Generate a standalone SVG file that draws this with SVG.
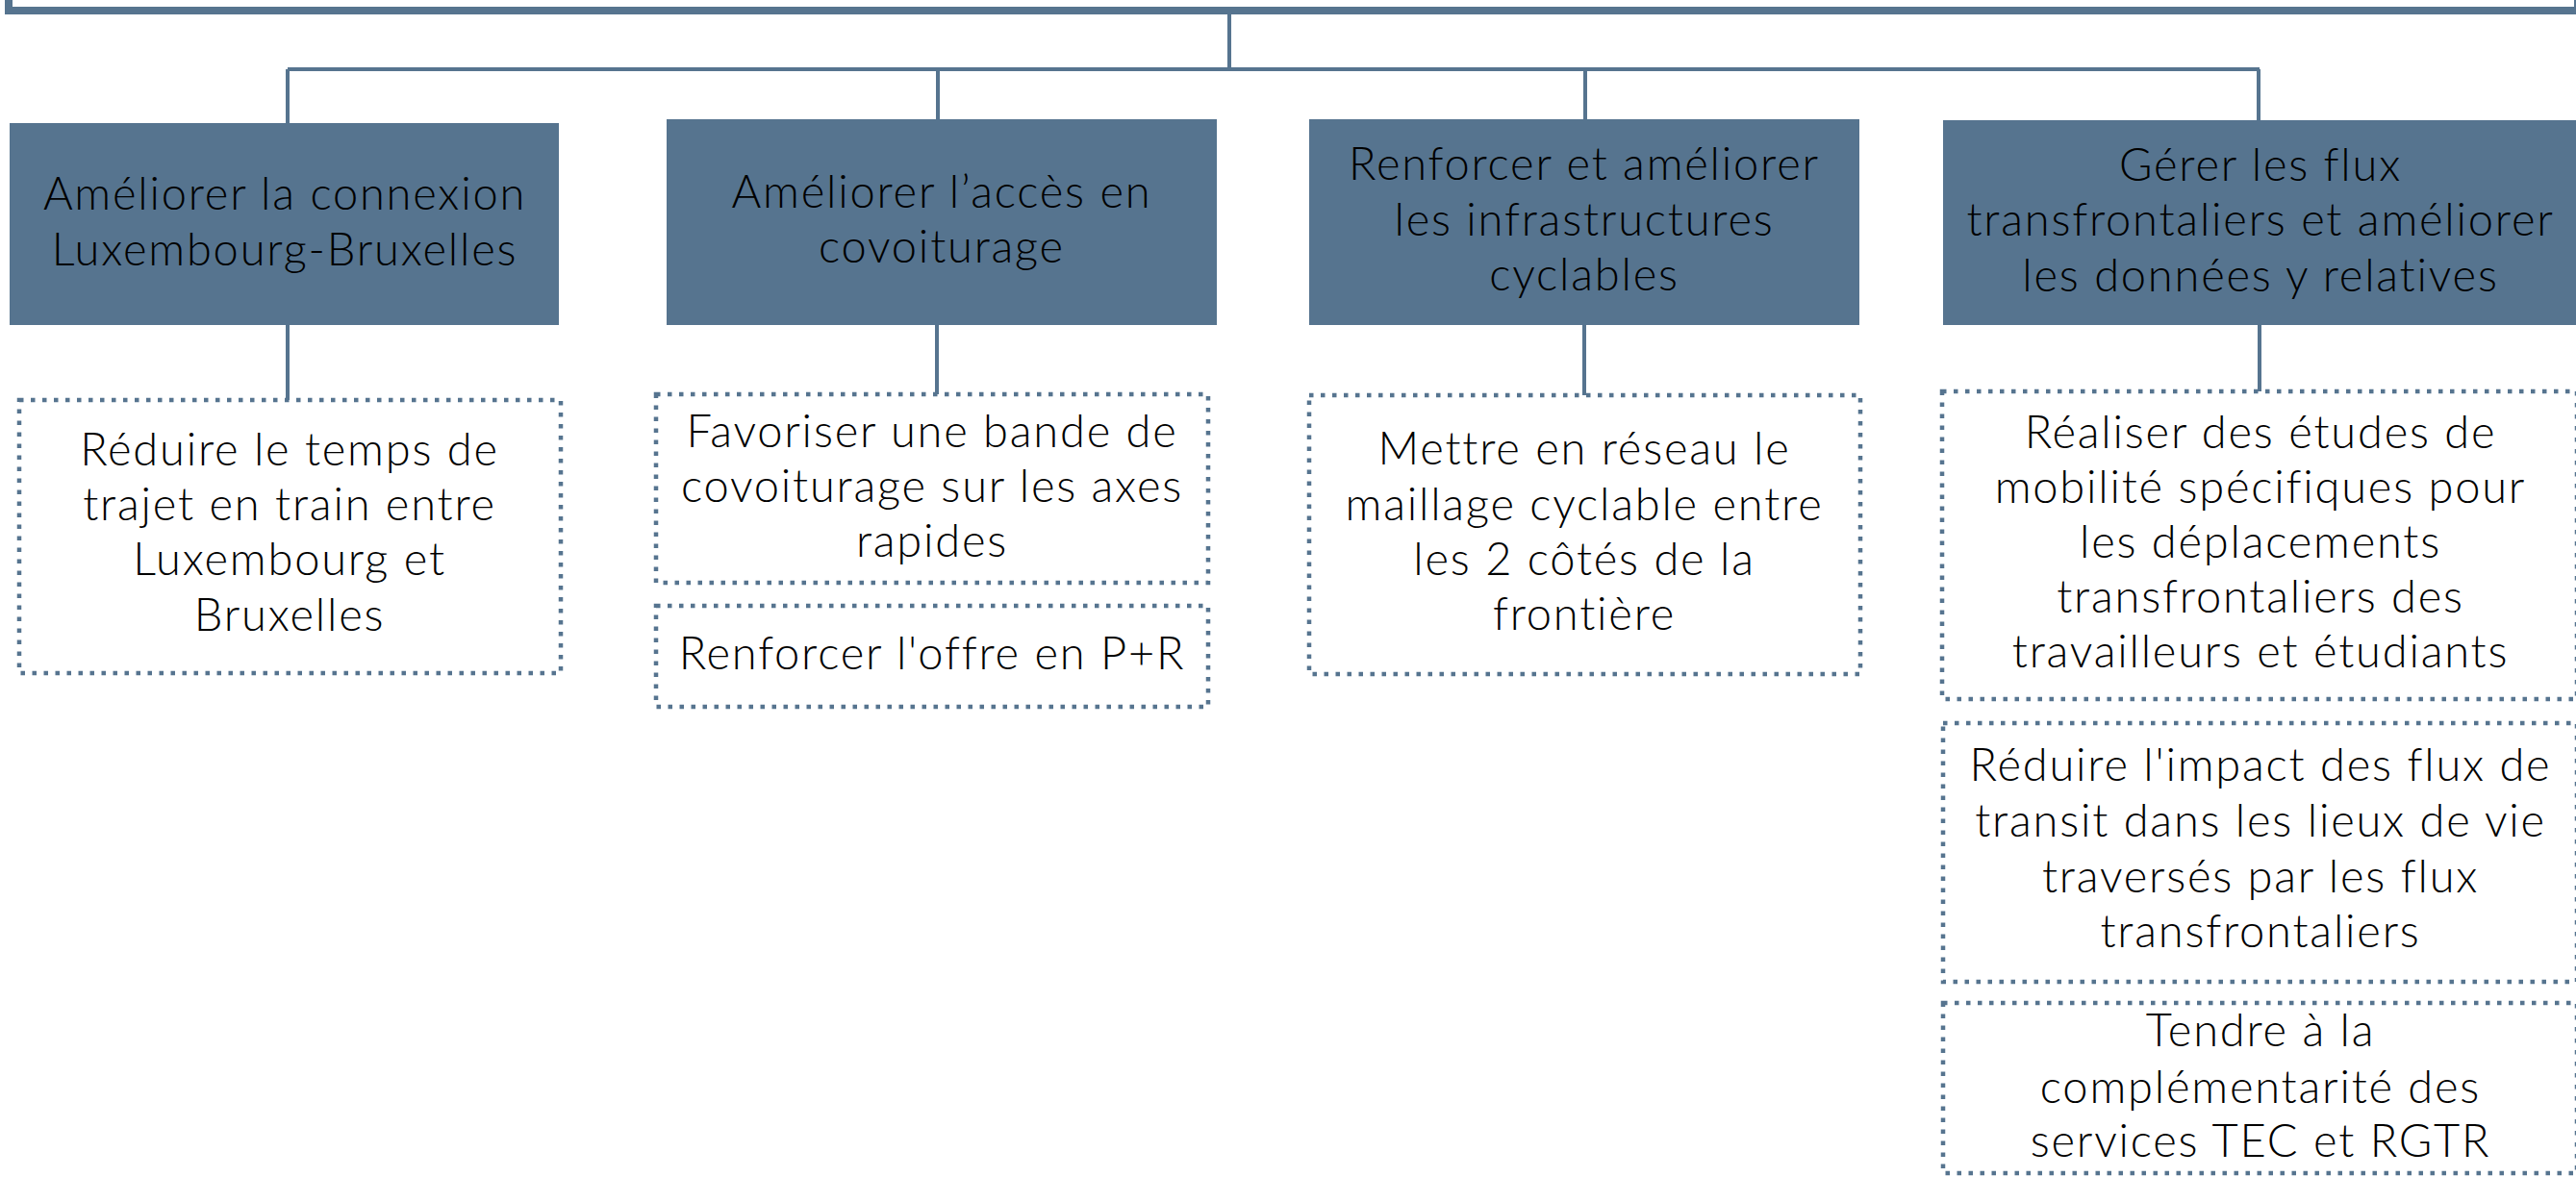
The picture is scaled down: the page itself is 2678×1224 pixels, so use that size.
<svg xmlns="http://www.w3.org/2000/svg" width="2678" height="1224" viewBox="0 0 2678 1224">
<style>
.box{fill:#56748F}
.dot{fill:#fff;stroke:#56748F;stroke-width:4.5;stroke-dasharray:4.5 7.5}
.conn{stroke:#56748F;stroke-width:4;fill:none}
text{font-family:Lato,"Noto Sans",sans-serif;font-size:47px;font-weight:300;letter-spacing:1.8px;fill:#000;text-anchor:middle}
</style>
<rect width="2678" height="1224" fill="#fff"/>
<g id="connectors">
<path class="conn" d="M1278 15V72M299 72H2349M299 72V128M975 72V124M1648 72V124M2348 72V125"/>
<path class="conn" d="M299 338V416M974 338V410M1647 338V411M2349 338V407"/>
</g>
<g id="root"><rect x="9" y="-40" width="2671" height="51" fill="#fff" stroke="#56748F" stroke-width="8"/></g>
<g id="n1"><rect class="box" x="10" y="128" width="571" height="210"/>
<text x="296" y="218">Améliorer la connexion</text><text x="296" y="276">Luxembourg-Bruxelles</text></g>
<g id="n2"><rect class="box" x="693" y="124" width="572" height="214"/>
<text x="979" y="216">Améliorer l’accès en</text><text x="979" y="273">covoiturage</text></g>
<g id="n3"><rect class="box" x="1361" y="124" width="572" height="214"/>
<text x="1647" y="187">Renforcer et améliorer</text><text x="1647" y="245">les infrastructures</text><text x="1647" y="302">cyclables</text></g>
<g id="n4"><rect class="box" x="2020" y="125" width="670" height="213"/>
<text x="2350" y="188">Gérer les flux</text><text x="2350" y="245">transfrontaliers et améliorer</text><text x="2350" y="303">les données y relatives</text></g>
<g id="d1"><rect class="dot" x="20" y="416" width="563" height="284"/>
<text x="301" y="484">Réduire le temps de</text><text x="301" y="541">trajet en train entre</text><text x="301" y="598">Luxembourg et</text><text x="301" y="656">Bruxelles</text></g>
<g id="d2a"><rect class="dot" x="682" y="410" width="574" height="196"/>
<text x="969" y="465">Favoriser une bande de</text><text x="969" y="522">covoiturage sur les axes</text><text x="969" y="579">rapides</text></g>
<g id="d2b"><rect class="dot" x="682" y="630" width="574" height="105"/>
<text x="969" y="696">Renforcer l'offre en P+R</text></g>
<g id="d3"><rect class="dot" x="1361" y="411" width="573" height="290"/>
<text x="1647" y="483">Mettre en réseau le</text><text x="1647" y="541">maillage cyclable entre</text><text x="1647" y="598">les 2 côtés de la</text><text x="1647" y="655">frontière</text></g>
<g id="d4a"><rect class="dot" x="2019" y="407" width="660" height="320"/>
<text x="2350" y="466">Réaliser des études de</text><text x="2350" y="523">mobilité spécifiques pour</text><text x="2350" y="580">les déplacements</text><text x="2350" y="637">transfrontaliers des</text><text x="2350" y="694">travailleurs et étudiants</text></g>
<g id="d4b"><rect class="dot" x="2020" y="752" width="659" height="269"/>
<text x="2350" y="812">Réduire l'impact des flux de</text><text x="2350" y="870">transit dans les lieux de vie</text><text x="2350" y="928">traversés par les flux</text><text x="2350" y="985">transfrontaliers</text></g>
<g id="d4c"><rect class="dot" x="2020" y="1043" width="659" height="177"/>
<text x="2350" y="1088">Tendre à la</text><text x="2350" y="1147">complémentarité des</text><text x="2350" y="1203">services TEC et RGTR</text></g>
</svg>
